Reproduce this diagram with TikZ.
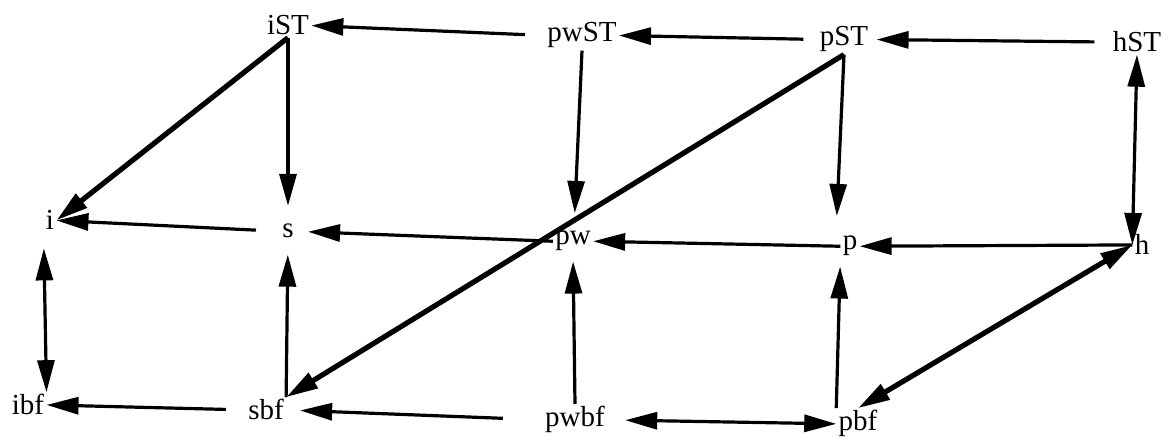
\documentclass[tikz,border=0pt]{standalone}
\usepackage{fontspec}
\setmainfont{Liberation Serif}
\usetikzlibrary{arrows.meta}

\begin{document}
\begin{tikzpicture}[x=0.5pt,y=-0.5pt,>={Triangle[length=16pt,width=8.5pt]},
  lbl/.style={anchor=base,inner sep=1pt,font=\fontsize{14.5}{16}\selectfont},
  arr/.style={->,line width=1.6pt},
  heavy/.style={->,line width=2.6pt}]
  \useasboundingbox (0,0) rectangle (1169,438);
  \node[lbl] (iST) at (288,35) {iST};
  \node[lbl] (pwST) at (582,42) {pwST};
  \node[lbl] (pST) at (844,46) {pST};
  \node[lbl] (hST) at (1137,52) {hST};
  \node[lbl] (i) at (50,230) {i};
  \node[lbl] (s) at (288,238) {s};
  \node[lbl] (pw) at (573,245) {pw};
  \node[lbl] (p) at (850,250) {p};
  \node[lbl] (h) at (1142,255) {h};
  \node[lbl] (ibf) at (28,415) {ibf};
  \node[lbl] (sbf) at (266,420) {sbf};
  \node[lbl] (pwbf) at (575,427) {pwbf};
  \node[lbl] (pbf) at (858,431) {pbf};
  \draw[arr,shorten <=10pt] (pwST.west) -- (iST.east);
  \draw[arr,shorten <=7pt] (pST.west) -- (pwST.east);
  \draw[arr,shorten <=8pt,shorten >=3pt] (hST.west) -- (pST.east);
  \draw[heavy] (iST.south) -- (i.east);
  \draw[arr,shorten >=8pt] (iST.south) -- (s.north);
  \draw[arr,shorten >=8pt] (pwST.south) -- ([xshift=-4]pwST.south |- pw.north);
  \draw[arr,shorten >=9pt] (pST.south) -- ([xshift=-4]pST.south |- p.north);
  \draw[arr,<->] (hST.south) -- (h.west);
  \draw[heavy] (pST.south) -- (sbf.north east);
  \draw[arr,shorten <=12pt] (s.west) -- (i.east);
  \draw[arr,shorten >=6pt] (pw.west) -- (s.east);
  \draw[arr] (p.west) -- (pw.east);
  \draw[arr] (h.west) -- (p.east);
  \draw[arr,<->,shorten <=8pt] (i.south west) -- (ibf.north east);
  \draw[arr,shorten >=7pt] (sbf.north east) -- (s.south);
  \draw[arr,shorten >=4pt] (pwbf.north) -- (pw.south);
  \draw[arr,shorten >=4pt] (pbf.north west) -- (p.south west);
  \draw[heavy,<->] (h.west) -- (pbf.north);
  \draw[arr,shorten <=10pt] (sbf.west) -- (ibf.east);
  \draw[arr,shorten <=20pt,shorten >=7pt] (pwbf.west) -- (sbf.east);
  \draw[arr,<->,shorten <=9pt] (pwbf.east) -- (pbf.west);
\end{tikzpicture}
\end{document}
